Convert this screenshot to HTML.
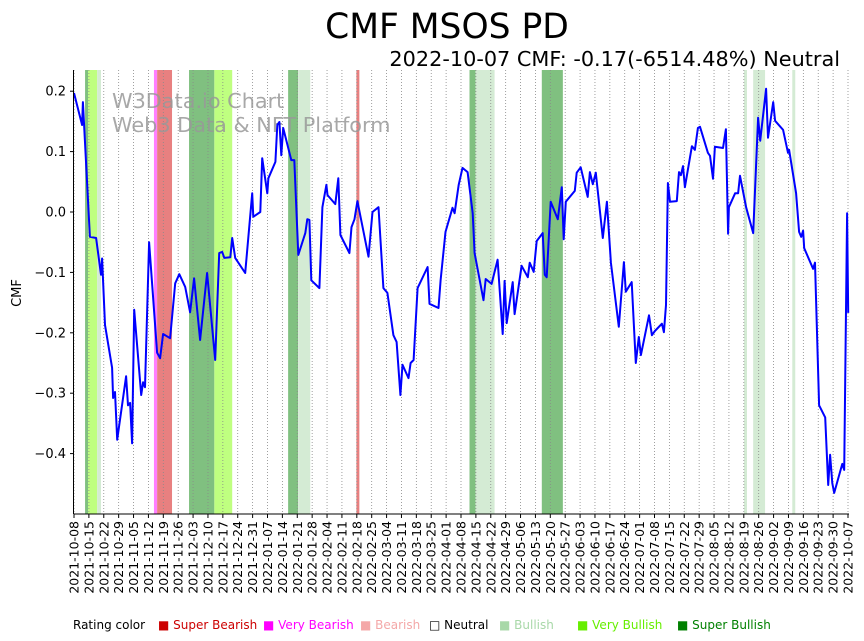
<!DOCTYPE html>
<html><head><meta charset="utf-8"><style>
body{margin:0;background:#fff;}
svg{display:block;font-family:"DejaVu Sans","Liberation Sans",sans-serif;}
</style></head><body>
<svg id="c" width="864" height="641" viewBox="0 0 864 641">
<text x="447" y="38" font-size="34.5" text-anchor="middle">CMF MSOS PD</text>
<text x="840" y="66" font-size="20.8" text-anchor="end">2022-10-07 CMF: -0.17(-6514.48%) Neutral</text>
<g id="bands"></g><g id="grid"></g>
<text x="112" y="108" font-size="20.8" fill="#999" opacity="0.85">W3Data.io Chart</text>
<text x="112" y="132" font-size="20.8" fill="#999" opacity="0.85">Web3 Data &amp; NFT Platform</text>
<g id="line"></g><g id="axes"></g>
<text transform="translate(21,293) rotate(-90)" font-size="13" text-anchor="middle">CMF</text>
<g font-size="12">
<text x="73" y="629">Rating color</text>
<text x="158" y="629" fill="#cc0000">■ Super Bearish</text>
<text x="263" y="629" fill="#ff00ff">■ Very Bearish</text>
<text x="360" y="629" fill="#f4a8a8">■ Bearish</text>
<text x="429" y="629" fill="#000">□ Neutral</text>
<text x="499" y="629" fill="#a8d8a8">■ Bullish</text>
<text x="577" y="629" fill="#66ee00">■ Very Bullish</text>
<text x="677" y="629" fill="#008000">■ Super Bullish</text>
</g>
</svg>
<script>
const days=[0,3.8,4.2,7.5,10.4,12.7,13.2,14.6,17.9,18.4,19.3,20.3,24.5,25.4,26.4,27.3,28.3,31.6,32.5,33.4,35.3,39.1,40.5,41.9,45.2,47.6,49.5,52.3,54.6,56.5,59.3,62.6,66.4,68.3,69.7,70.7,73.5,74.4,75.8,80.5,83.8,84.3,87.6,88.5,90.9,91.4,94.7,95.6,96.6,97.5,98.4,102.2,103.6,105.5,108.8,109.7,110.7,111.6,115.4,116.8,118.7,119.2,122.9,124.3,125.3,129.5,130.5,131.9,133.3,138.5,140.4,143.2,145.5,147.4,150.2,151.7,153.5,154.5,157.3,158.3,159.7,161.6,166.3,167.2,171.4,172.4,174.7,178.0,179.0,180.9,182.7,185.1,187.5,188.4,192.6,193.6,196.4,199.2,201.6,202.5,203.5,206.3,207.2,210.5,213.4,214.3,216.2,217.6,220.4,221.4,222.3,224.2,227.5,229.4,230.3,231.3,235.5,236.4,238.3,241.6,242.6,244.0,245.4,248.7,250.6,252.5,256.2,258.6,259.5,262.3,264.2,265.6,266.6,270.4,271.8,273.2,276.5,277.4,278.4,279.3,280.3,283.5,284.5,285.4,286.4,287.3,290.6,292.0,293.4,294.4,298.1,299.1,300.5,301.4,305.2,306.6,307.6,308.0,310.9,312.3,313.2,316.1,319.4,321.7,322.7,325.5,326.4,328.8,329.7,333.5,335.8,336.3,339.6,341.0,342.0,342.9,343.4,347.6,348.5,350.4,353.3,354.7,355.6,356.6,357.5,361.3,362.2,363.6,364.1];
const cmf=[0.197,0.144,0.182,-0.041,-0.043,-0.104,-0.077,-0.187,-0.258,-0.308,-0.298,-0.377,-0.272,-0.32,-0.316,-0.383,-0.162,-0.303,-0.282,-0.290,-0.05,-0.233,-0.242,-0.202,-0.209,-0.118,-0.103,-0.124,-0.166,-0.11,-0.212,-0.101,-0.245,-0.068,-0.066,-0.076,-0.075,-0.043,-0.076,-0.101,0.031,-0.008,0.0,0.089,0.031,0.056,0.083,0.144,0.149,0.094,0.139,0.086,0.086,-0.071,-0.035,-0.012,-0.013,-0.113,-0.126,0.008,0.045,0.028,0.013,0.056,-0.038,-0.068,-0.025,-0.012,0.018,-0.074,0.0,0.008,-0.126,-0.134,-0.204,-0.215,-0.303,-0.253,-0.275,-0.25,-0.245,-0.126,-0.091,-0.152,-0.159,-0.113,-0.033,0.007,-0.002,0.045,0.073,0.066,-0.002,-0.068,-0.146,-0.111,-0.119,-0.079,-0.202,-0.114,-0.184,-0.116,-0.169,-0.089,-0.108,-0.084,-0.099,-0.048,-0.035,-0.104,-0.108,0.017,-0.012,0.041,-0.045,0.017,0.035,0.065,0.074,0.025,0.066,0.046,0.065,-0.043,0.017,-0.084,-0.19,-0.083,-0.132,-0.116,-0.25,-0.207,-0.237,-0.171,-0.204,-0.197,-0.185,-0.199,-0.154,0.048,0.017,0.018,0.066,0.061,0.076,0.041,0.109,0.103,0.139,0.141,0.098,0.093,0.055,0.108,0.106,0.137,-0.036,0.008,0.031,0.031,0.06,0.008,-0.035,0.156,0.118,0.204,0.123,0.182,0.151,0.136,0.098,0.103,0.031,-0.033,-0.041,-0.031,-0.06,-0.094,-0.084,-0.32,-0.34,-0.452,-0.402,-0.449,-0.465,-0.417,-0.427,-0.002,-0.167];
const bandStart=[5.2,6.6,10.9,37.6,39.1,54.1,66,100.7,105.4,132.8,186,188.8,220,315.1,319.4,337.8];
const bandEnd=[6.6,10.9,12.7,39.1,46.1,66,74.4,105.4,111.1,134.2,188.8,197.8,229.9,316.5,325,339.2];
const bandType=["sb","vb","b","vbear","sbear","sb","vb","sb","b","sbear","sb","b","sb","b","b","b"];
const yTicks=[0.2,0.1,0.0,-0.1,-0.2,-0.3,-0.4];
const x0=74,x1=848,yTop=70,yBot=514;
const X=d=>x0+d*(x1-x0)/364;
const Y=v=>212-v*604;
const NS="http://www.w3.org/2000/svg";
function mk(t,a,p){const e=document.createElementNS(NS,t);for(const k in a)e.setAttribute(k,a[k]);p.appendChild(e);return e;}
const col={sb:"#80c080",vb:"#bfff80",b:"#d4ebd4",vbear:"#ff80ff",sbear:"#e88080"};
const gB=document.getElementById('bands');
bandStart.forEach((s,i)=>{const r=mk('rect',{x:X(s),y:yTop,width:X(bandEnd[i])-X(s),height:yBot-yTop,fill:col[bandType[i]]},gB);

});
const gG=document.getElementById('grid'),gA=document.getElementById('axes');
const base=new Date(Date.UTC(2021,9,8));
for(let i=0;i<=52;i++){const d=i*7,x=X(d);
mk('line',{x1:x,y1:yTop,x2:x,y2:yBot,stroke:"#888","stroke-width":0.8,"stroke-dasharray":"1,2"},gG);
mk('line',{x1:x,y1:yBot,x2:x,y2:yBot+4,stroke:"#000","stroke-width":1},gA);
const dt=new Date(base.getTime()+d*864e5);const s=dt.toISOString().slice(0,10);
const t=mk('text',{transform:`translate(${x+4.5},${yBot+7}) rotate(-90)`,"font-size":12.5,"text-anchor":"end"},gA);t.textContent=s;

}
yTicks.forEach(v=>{const y=Y(v);mk('line',{x1:x0-4,y1:y,x2:x0,y2:y,stroke:"#000"},gA);
const t=mk('text',{x:x0-8,y:y+4.5,"font-size":13,"text-anchor":"end"},gA);t.textContent=v.toFixed(1).replace('-','\u2212');

});
mk('line',{x1:x0-0.5,y1:yTop,x2:x0-0.5,y2:yBot,stroke:"#000"},gA);
mk('line',{x1:x0-0.5,y1:yBot,x2:x1+1,y2:yBot,stroke:"#000"},gA);
const p=mk('polyline',{points:days.map((d,i)=>X(d).toFixed(1)+','+Y(cmf[i]).toFixed(1)).join(' '),fill:"none",stroke:"#0000ff","stroke-width":2,"stroke-linejoin":"round"},document.getElementById('line'));


</script>
</body></html>
